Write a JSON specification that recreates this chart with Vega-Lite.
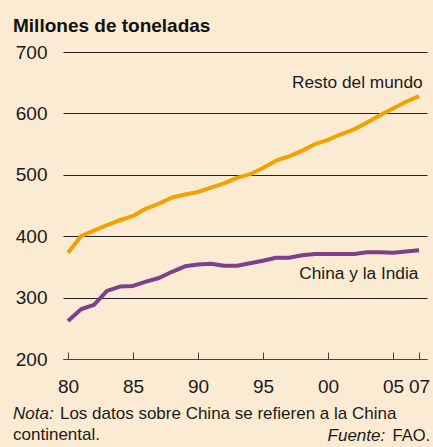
{
  "$schema": "https://vega.github.io/schema/vega-lite/v6.json",
  "width": 364,
  "height": 307,
  "autosize": {"type": "none"},
  "padding": {"left": 63, "top": 52, "right": 6, "bottom": 88},
  "background": "#fcebd3",
  "config": {
    "view": {"stroke": null},
    "font": "Liberation Sans",
    "title": {"font": "Liberation Sans", "fontSize": 19, "fontWeight": "bold", "color": "#111111"}
  },
  "title": {"text": "Millones de toneladas", "anchor": "start", "frame": "group", "dx": -50, "offset": 7},
  "datasets": {
    "series": [
      {"year": 1980, "series": "Resto del mundo", "value": 373},
      {"year": 1981, "series": "Resto del mundo", "value": 400},
      {"year": 1982, "series": "Resto del mundo", "value": 409},
      {"year": 1983, "series": "Resto del mundo", "value": 418},
      {"year": 1984, "series": "Resto del mundo", "value": 426},
      {"year": 1985, "series": "Resto del mundo", "value": 433},
      {"year": 1986, "series": "Resto del mundo", "value": 445},
      {"year": 1987, "series": "Resto del mundo", "value": 453},
      {"year": 1988, "series": "Resto del mundo", "value": 463},
      {"year": 1989, "series": "Resto del mundo", "value": 468},
      {"year": 1990, "series": "Resto del mundo", "value": 472},
      {"year": 1991, "series": "Resto del mundo", "value": 479},
      {"year": 1992, "series": "Resto del mundo", "value": 486},
      {"year": 1993, "series": "Resto del mundo", "value": 495},
      {"year": 1994, "series": "Resto del mundo", "value": 501},
      {"year": 1995, "series": "Resto del mundo", "value": 511},
      {"year": 1996, "series": "Resto del mundo", "value": 523},
      {"year": 1997, "series": "Resto del mundo", "value": 530},
      {"year": 1998, "series": "Resto del mundo", "value": 539},
      {"year": 1999, "series": "Resto del mundo", "value": 550},
      {"year": 2000, "series": "Resto del mundo", "value": 557},
      {"year": 2001, "series": "Resto del mundo", "value": 566},
      {"year": 2002, "series": "Resto del mundo", "value": 574},
      {"year": 2003, "series": "Resto del mundo", "value": 585},
      {"year": 2004, "series": "Resto del mundo", "value": 597},
      {"year": 2005, "series": "Resto del mundo", "value": 608},
      {"year": 2006, "series": "Resto del mundo", "value": 619},
      {"year": 2007, "series": "Resto del mundo", "value": 628},
      {"year": 1980, "series": "China y la India", "value": 262},
      {"year": 1981, "series": "China y la India", "value": 281},
      {"year": 1982, "series": "China y la India", "value": 288},
      {"year": 1983, "series": "China y la India", "value": 311},
      {"year": 1984, "series": "China y la India", "value": 318},
      {"year": 1985, "series": "China y la India", "value": 319},
      {"year": 1986, "series": "China y la India", "value": 326},
      {"year": 1987, "series": "China y la India", "value": 332},
      {"year": 1988, "series": "China y la India", "value": 342},
      {"year": 1989, "series": "China y la India", "value": 351},
      {"year": 1990, "series": "China y la India", "value": 354},
      {"year": 1991, "series": "China y la India", "value": 355},
      {"year": 1992, "series": "China y la India", "value": 352},
      {"year": 1993, "series": "China y la India", "value": 352},
      {"year": 1994, "series": "China y la India", "value": 356},
      {"year": 1995, "series": "China y la India", "value": 360},
      {"year": 1996, "series": "China y la India", "value": 365},
      {"year": 1997, "series": "China y la India", "value": 365},
      {"year": 1998, "series": "China y la India", "value": 369},
      {"year": 1999, "series": "China y la India", "value": 371},
      {"year": 2000, "series": "China y la India", "value": 371},
      {"year": 2001, "series": "China y la India", "value": 371},
      {"year": 2002, "series": "China y la India", "value": 371},
      {"year": 2003, "series": "China y la India", "value": 374},
      {"year": 2004, "series": "China y la India", "value": 374},
      {"year": 2005, "series": "China y la India", "value": 373},
      {"year": 2006, "series": "China y la India", "value": 375},
      {"year": 2007, "series": "China y la India", "value": 377}
    ]
  },
  "encoding": {
    "x": {
      "type": "quantitative",
      "scale": {"domain": [1979.615, 2007.615], "nice": false, "zero": false},
      "axis": {
        "title": null,
        "values": [1980, 1985, 1990, 1995, 2000, 2005, 2007],
        "labelExpr": "slice(toString(datum.value), 2)",
        "grid": false,
        "domain": true,
        "domainColor": "#444444",
        "domainWidth": 1,
        "ticks": true,
        "tickSize": -7,
        "tickColor": "#444444",
        "tickWidth": 1,
        "labelFontSize": 19,
        "labelColor": "#1a1a1a",
        "labelFont": "Liberation Sans",
        "labelPadding": 25,
        "labelFlush": false,
        "labelOverlap": false
      }
    },
    "y": {
      "type": "quantitative",
      "scale": {"domain": [200, 700], "nice": false, "zero": false},
      "axis": {
        "title": null,
        "values": [200, 300, 400, 500, 600, 700],
        "grid": true,
        "gridColor": "#222222",
        "gridOpacity": 1,
        "gridWidth": 1,
        "domain": false,
        "ticks": false,
        "labelFontSize": 19,
        "labelColor": "#1a1a1a",
        "labelFont": "Liberation Sans",
        "labelPadding": 16
      }
    }
  },
  "layer": [
    {
      "data": {"name": "series"},
      "mark": {"type": "line", "strokeWidth": 4, "strokeJoin": "round", "strokeCap": "butt"},
      "encoding": {
        "x": {"field": "year", "type": "quantitative"},
        "y": {"field": "value", "type": "quantitative"},
        "color": {
          "field": "series",
          "type": "nominal",
          "scale": {"domain": ["Resto del mundo", "China y la India"], "range": ["#f2a200", "#7e3f8c"]},
          "legend": null
        }
      }
    },
    {
      "data": {"values": [{}]},
      "mark": {"type": "text", "align": "right", "baseline": "alphabetic", "fontSize": 17.3, "color": "#1a1a1a"},
      "encoding": {"x": {"datum": 2007.28}, "y": {"datum": 640.9}, "text": {"value": "Resto del mundo"}}
    },
    {
      "data": {"values": [{}]},
      "mark": {"type": "text", "align": "right", "baseline": "alphabetic", "fontSize": 17.3, "color": "#1a1a1a"},
      "encoding": {"x": {"datum": 2006.95}, "y": {"datum": 329.8}, "text": {"value": "China y la India"}}
    },
    {
      "data": {"values": [{}]},
      "mark": {"type": "text", "align": "left", "baseline": "alphabetic", "fontSize": 17, "fontStyle": "italic", "color": "#1a1a1a"},
      "encoding": {"x": {"datum": 1975.77}, "y": {"datum": 101.8}, "text": {"value": "Nota:"}}
    },
    {
      "data": {"values": [{}]},
      "mark": {"type": "text", "align": "left", "baseline": "alphabetic", "fontSize": 17, "color": "#1a1a1a"},
      "encoding": {"x": {"datum": 1979.38}, "y": {"datum": 101.8}, "text": {"value": "Los datos sobre China se refieren a la China"}}
    },
    {
      "data": {"values": [{}]},
      "mark": {"type": "text", "align": "left", "baseline": "alphabetic", "fontSize": 17, "color": "#1a1a1a"},
      "encoding": {"x": {"datum": 1975.77}, "y": {"datum": 68.1}, "text": {"value": "continental."}}
    },
    {
      "data": {"values": [{}]},
      "mark": {"type": "text", "align": "right", "baseline": "alphabetic", "fontSize": 17, "fontStyle": "italic", "color": "#1a1a1a"},
      "encoding": {"x": {"datum": 2004.4}, "y": {"datum": 67}, "text": {"value": "Fuente:"}}
    },
    {
      "data": {"values": [{}]},
      "mark": {"type": "text", "align": "right", "baseline": "alphabetic", "fontSize": 16.5, "color": "#1a1a1a"},
      "encoding": {"x": {"datum": 2007.85}, "y": {"datum": 67}, "text": {"value": "FAO."}}
    }
  ]
}
